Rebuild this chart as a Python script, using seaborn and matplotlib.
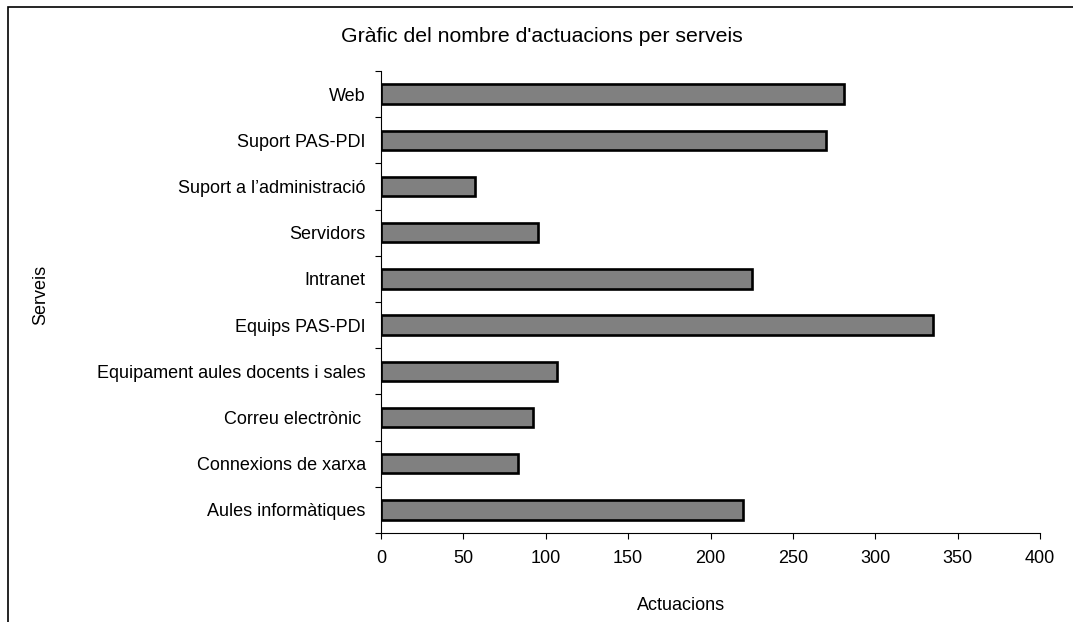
import numpy as np
import pandas as pd
import matplotlib
matplotlib.use('Agg')
import matplotlib.pyplot as plt
import seaborn as sns

serveis = ['Web', 'Suport PAS-PDI', 'Suport a l\u2019administració', 'Servidors',
           'Intranet', 'Equips PAS-PDI', 'Equipament aules docents i sales',
           'Correu electrònic ', 'Connexions de xarxa', 'Aules informàtiques']
actuacions = [281, 270, 57, 95, 225, 335, 107, 92, 83, 220]
xticks = [0, 50, 100, 150, 200, 250, 300, 350, 400]

df = pd.DataFrame({'servei': serveis, 'actuacions': actuacions})

sns.set_style('white')
plt.rcParams['font.family'] = ['Liberation Sans', 'DejaVu Sans']
plt.rcParams.update({'text.color': 'black', 'axes.labelcolor': 'black',
                     'xtick.color': 'black', 'ytick.color': 'black'})

W, H = 1073, 622
fig = plt.figure(figsize=(W / 100, H / 100), dpi=100)
# axes box in pixels: x 381..1040, y 71..533
ax = fig.add_axes([381 / W, 1 - 533 / H, 659 / W, 462 / H])

sns.barplot(data=df, x='actuacions', y='servei', order=serveis, orient='h',
            color='#808080', saturation=1, edgecolor='black', linewidth=1.9,
            width=0.42, ax=ax)

ax.set_xlim(0, 400)
ax.set_ylim(len(serveis) - 0.5, -0.5)
ax.set_xticks(xticks)
ax.tick_params(axis='x', direction='out', length=4, width=0.8, colors='black',
               labelsize=13, pad=8, bottom=True)
ax.tick_params(axis='y', which='major', length=0, labelsize=13, pad=11,
               colors='black')
ax.set_yticks(np.arange(-0.5, len(serveis), 1), minor=True)
ax.tick_params(axis='y', which='minor', direction='out', length=4, width=0.8,
               left=True, colors='black')

for s in ['top', 'right']:
    ax.spines[s].set_visible(False)
for s in ['left', 'bottom']:
    ax.spines[s].set_color('black')
    ax.spines[s].set_linewidth(0.8)

ax.set_xlabel('Actuacions', fontsize=13, color='black')
ax.xaxis.set_label_coords((681 - 381) / 659, -(605 - 533) / 462)
ax.xaxis.label.set_va('center')
ax.set_ylabel('Serveis', fontsize=13, color='black')
ax.yaxis.set_label_coords((41 - 381) / 659, (533 - 295) / 462)
ax.yaxis.label.set_va('center')
ax.yaxis.label.set_ha('center')

fig.text(542 / W, 1 - 37 / H, "Gràfic del nombre d'actuacions per serveis",
         ha='center', va='center', fontsize=15.3, color='black')

# chart border, runs off the right and bottom edges
fig.patches.append(plt.Rectangle((8 / W, -0.1), 1.2, 1 - 7 / H + 0.1,
                                 transform=fig.transFigure, fill=False,
                                 edgecolor='black', linewidth=1.2))

fig.savefig('out.png', dpi=100)
